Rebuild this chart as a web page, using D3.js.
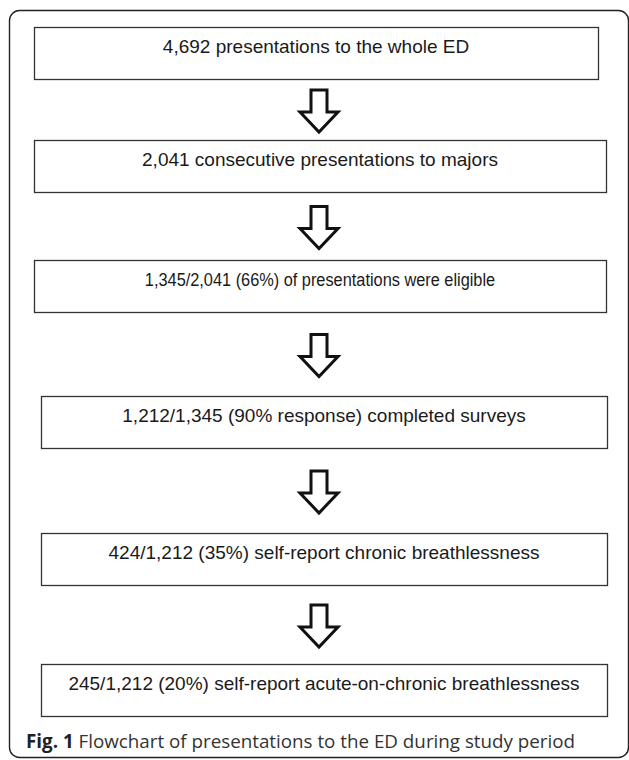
<!DOCTYPE html>
<html>
<head>
<meta charset="utf-8">
<script src="https://cdn.jsdelivr.net/npm/d3@7"></script>
<style>
  body { margin: 0; background: #fff; }
  svg { display: block; }
</style>
</head>
<body>
<svg id="container" width="629" height="760"></svg>
<script>
// flowchart stages, top to bottom
const stages = ["s1", "s2", "s3", "s4", "s5", "s6"];
const labels = [
  "4,692 presentations to the whole ED",
  "2,041 consecutive presentations to majors",
  "1,345/2,041 (66%) of presentations were eligible",
  "1,212/1,345 (90% response) completed surveys",
  "424/1,212 (35%) self-report chronic breathlessness",
  "245/1,212 (20%) self-report acute-on-chronic breathlessness"
];
const captionBold = "Fig. 1";
const captionText = " Flowchart of presentations to the ED during study period";

// layout of the boxes (drawn by hand in the original, so not evenly spaced)
const boxTop = [27, 140, 260, 396, 533, 664];
const boxLeft = [34, 34, 34, 41, 41, 41];
const boxRight = [598, 606, 606, 607, 607, 607];
const labelStretch = [1, 1, 0.86, 1, 1, 1]; // third label is set in a narrow face
const boxH = 52;

const svg = d3.select('#container');

const yTop = d3.scaleOrdinal().domain(stages).range(boxTop);
const xLeft = d3.scaleOrdinal().domain(stages).range(boxLeft);
const xRight = d3.scaleOrdinal().domain(stages).range(boxRight);
const stretch = d3.scaleOrdinal().domain(stages).range(labelStretch);

const nodes = stages.map((s, i) => ({ id: s, text: labels[i] }));
const links = d3.pairs(nodes);

// outer frame
svg.append('rect')
    .attr('x', 9.5)
    .attr('y', 10.5)
    .attr('width', 619)
    .attr('height', 747)
    .attr('rx', 10)
    .attr('fill', 'none')
    .attr('stroke', '#222')
    .attr('stroke-width', 1.4);

// boxes
svg.selectAll('rect.box')
    .data(nodes)
    .join('rect')
    .attr('class', 'box')
    .attr('x', d => xLeft(d.id) + 0.5)
    .attr('y', d => yTop(d.id) + 0.5)
    .attr('width', d => xRight(d.id) - xLeft(d.id))
    .attr('height', boxH)
    .attr('fill', 'none')
    .attr('stroke', '#333')
    .attr('stroke-width', 1.3);

svg.selectAll('text.label')
    .data(nodes)
    .join('text')
    .attr('class', 'label')
    .attr('transform', d => `translate(${(xLeft(d.id) + xRight(d.id)) / 2},${yTop(d.id) + 26}) scale(${stretch(d.id)},1)`)
    .attr('text-anchor', 'middle')
    .attr('font-family', 'Liberation Sans, Arial, sans-serif')
    .attr('font-size', 19)
    .attr('fill', '#1a1a1a')
    .text(d => d.text);

// hollow block arrows between boxes
const shaftW = 8, headW = 19, headLen = 20, arrowLen = 42;
const arrowX = 319;

function arrowPath(yStart) {
    const y2 = yStart + arrowLen - headLen, y3 = yStart + arrowLen;
    return d3.line()([
        [arrowX - shaftW, yStart], [arrowX + shaftW, yStart],
        [arrowX + shaftW, y2], [arrowX + headW, y2],
        [arrowX, y3], [arrowX - headW, y2],
        [arrowX - shaftW, y2]
    ]) + 'Z';
}

svg.selectAll('path.arrow')
    .data(links)
    .join('path')
    .attr('class', 'arrow')
    .attr('d', ([a, b]) => {
        const gapTop = yTop(a.id) + boxH, gapBot = yTop(b.id);
        const mid = (gapTop + gapBot) / 2 + 1.5;
        return arrowPath(mid - arrowLen / 2);
    })
    .attr('fill', '#fff')
    .attr('stroke', '#111')
    .attr('stroke-width', 3)
    .attr('stroke-linejoin', 'miter');

// caption
const cap = svg.append('text')
    .attr('x', 26)
    .attr('y', 748)
    .attr('font-family', 'Open Sans, sans-serif')
    .attr('font-size', 18.8)
    .attr('fill', '#333');
cap.append('tspan').attr('font-weight', 'bold').attr('fill', '#222').text(captionBold);
cap.append('tspan').text(captionText);
</script>
</body>
</html>
